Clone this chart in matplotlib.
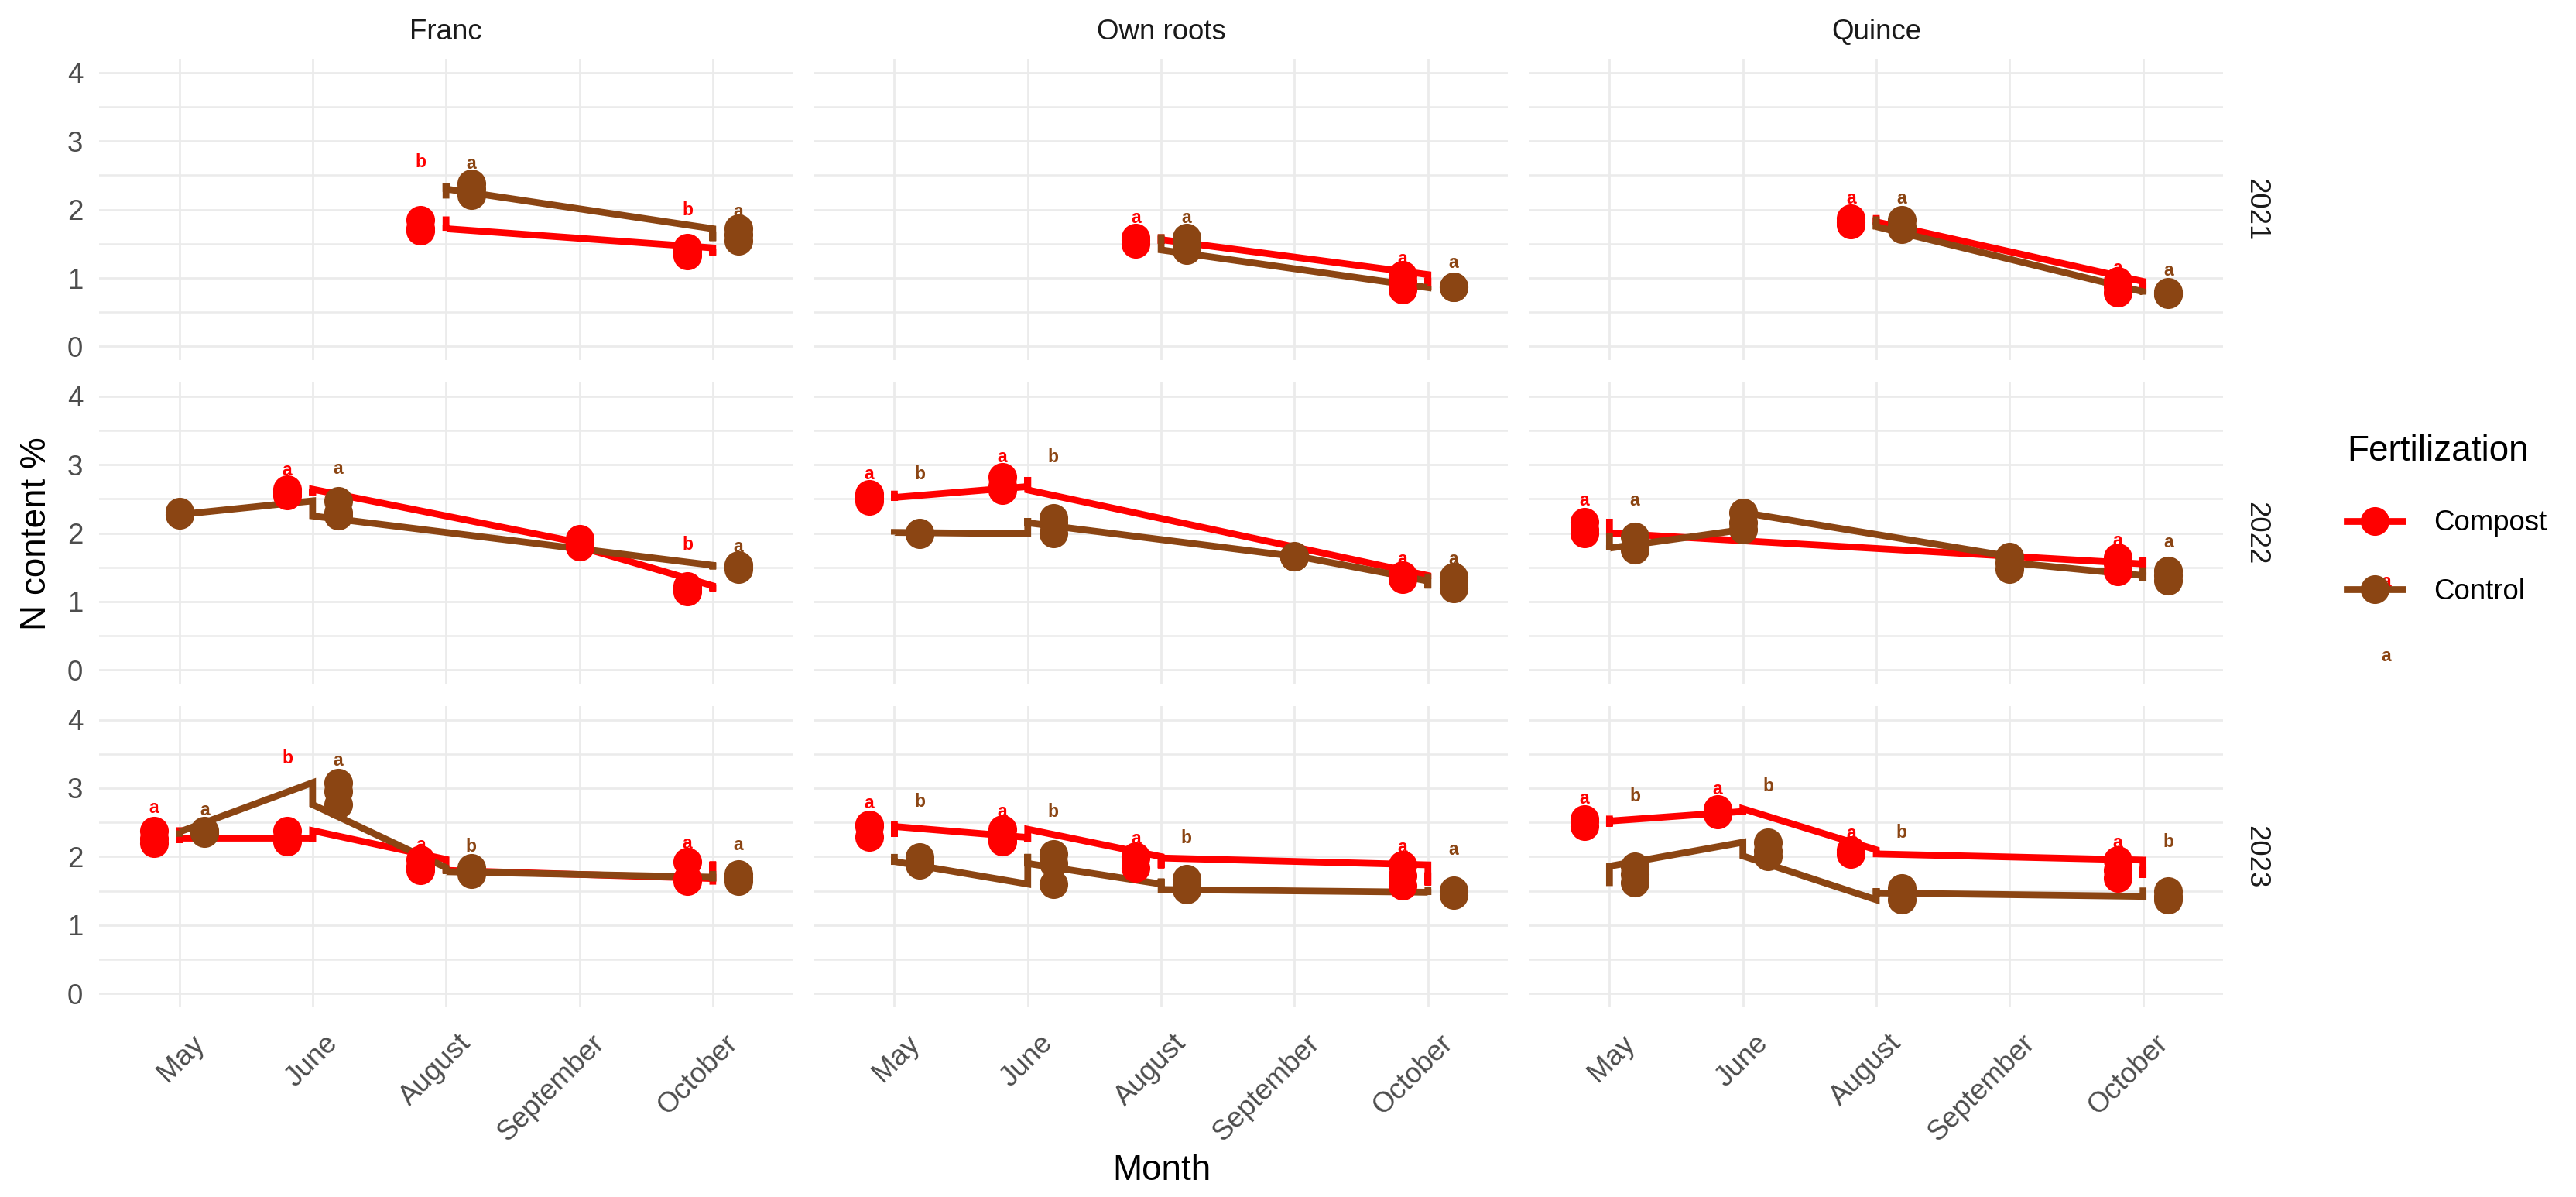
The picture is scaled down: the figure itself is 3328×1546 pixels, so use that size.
import numpy as np
import matplotlib.pyplot as plt
from matplotlib.lines import Line2D
from matplotlib.transforms import ScaledTranslation

plt.rcParams['font.family'] = ['Liberation Sans', 'DejaVu Sans']

months = ["May", "June", "August", "September", "October"]
sites = ["Franc", "Own roots", "Quince"]
years = ["2021", "2022", "2023"]
groups = ["Compost", "Control"]
colors = {"Compost": "#FF0000", "Control": "#8B4513"}

# N content of the replicates per month, in data order (the line runs through them in that order)
franc_2021_compost = {"August": [1.85, 1.69, 1.72], "October": [1.44, 1.33, 1.38]}
franc_2021_control = {"August": [2.21, 2.38, 2.30], "October": [1.72, 1.54, 1.63]}
franc_2022_compost = {"June": [2.60, 2.55, 2.64], "September": [1.86, 1.91, 1.80], "October": [1.23, 1.15, 1.19]}
franc_2022_control = {"May": [2.28, 2.31, 2.27], "June": [2.47, 2.30, 2.25], "October": [1.53, 1.47, 1.52]}
franc_2023_compost = {"May": [2.38, 2.20, 2.27], "June": [2.27, 2.22, 2.38], "August": [1.96, 1.86, 1.80], "October": [1.68, 1.93, 1.64]}
franc_2023_control = {"May": [2.34, 2.38, 2.36], "June": [3.08, 2.95, 2.76], "August": [1.84, 1.75, 1.78], "October": [1.70, 1.64, 1.74]}

own_2021_compost = {"August": [1.59, 1.50, 1.56], "October": [1.05, 0.83, 0.95]}
own_2021_control = {"August": [1.59, 1.46, 1.41], "October": [0.86, 0.88, 0.87]}
own_2022_compost = {"May": [2.57, 2.47, 2.52], "June": [2.68, 2.82, 2.63], "October": [1.38, 1.33, 1.36]}
own_2022_control = {"May": [2.00, 1.98, 2.01], "June": [1.99, 2.22, 2.15], "September": [1.66, 1.65, 1.67], "October": [1.30, 1.19, 1.36]}
own_2023_compost = {"May": [2.47, 2.29, 2.44], "June": [2.28, 2.22, 2.40], "August": [2.00, 1.83, 1.98], "October": [1.88, 1.58, 1.72]}
own_2023_control = {"May": [1.99, 1.88, 1.93], "June": [1.60, 2.04, 1.90], "August": [1.60, 1.68, 1.52], "October": [1.48, 1.44, 1.51]}

quince_2021_compost = {"August": [1.87, 1.78, 1.82], "October": [0.95, 0.79, 0.88]}
quince_2021_control = {"August": [1.85, 1.71, 1.75], "October": [0.80, 0.76, 0.78]}
quince_2022_compost = {"May": [2.16, 2.05, 2.00], "October": [1.55, 1.64, 1.44]}
quince_2022_control = {"May": [1.95, 1.76, 1.78], "June": [2.05, 2.15, 2.30], "September": [1.66, 1.47, 1.57], "October": [1.38, 1.30, 1.45]}
quince_2023_compost = {"May": [2.55, 2.44, 2.52], "June": [2.66, 2.62, 2.70], "August": [2.10, 2.06, 2.04], "October": [1.95, 1.69, 1.80]}
quince_2023_control = {"May": [1.62, 1.75, 1.86], "June": [2.21, 2.08, 2.01], "August": [1.37, 1.54, 1.47], "October": [1.42, 1.37, 1.50]}

# significance letters: (group, month, y, letter)
franc_2021_letters = [("Compost", "August", 2.69, "b"), ("Control", "August", 2.67, "a"),
                      ("Compost", "October", 1.99, "b"), ("Control", "October", 1.97, "a")]
franc_2022_letters = [("Compost", "June", 2.92, "a"), ("Control", "June", 2.94, "a"),
                      ("Compost", "October", 1.83, "b"), ("Control", "October", 1.80, "a")]
franc_2023_letters = [("Compost", "May", 2.71, "a"), ("Control", "May", 2.68, "a"),
                      ("Compost", "June", 3.43, "b"), ("Control", "June", 3.40, "a"),
                      ("Compost", "August", 2.17, "a"), ("Control", "August", 2.15, "b"),
                      ("Compost", "October", 2.19, "a"), ("Control", "October", 2.17, "a")]
own_2021_letters = [("Compost", "August", 1.88, "a"), ("Control", "August", 1.88, "a"),
                    ("Compost", "October", 1.28, "a"), ("Control", "October", 1.22, "a")]
own_2022_letters = [("Compost", "May", 2.86, "a"), ("Control", "May", 2.86, "b"),
                    ("Compost", "June", 3.11, "a"), ("Control", "June", 3.11, "b"),
                    ("Compost", "October", 1.61, "a"), ("Control", "October", 1.61, "a")]
own_2023_letters = [("Compost", "May", 2.78, "a"), ("Control", "May", 2.80, "b"),
                    ("Compost", "June", 2.65, "a"), ("Control", "June", 2.66, "b"),
                    ("Compost", "August", 2.26, "a"), ("Control", "August", 2.27, "b"),
                    ("Compost", "October", 2.14, "a"), ("Control", "October", 2.10, "a")]
quince_2021_letters = [("Compost", "August", 2.16, "a"), ("Control", "August", 2.16, "a"),
                       ("Compost", "October", 1.14, "a"), ("Control", "October", 1.11, "a")]
quince_2022_letters = [("Compost", "May", 2.48, "a"), ("Control", "May", 2.48, "a"),
                       ("Compost", "October", 1.89, "a"), ("Control", "October", 1.87, "a")]
quince_2023_letters = [("Compost", "May", 2.85, "a"), ("Control", "May", 2.88, "b"),
                       ("Compost", "June", 2.98, "a"), ("Control", "June", 3.03, "b"),
                       ("Compost", "August", 2.34, "a"), ("Control", "August", 2.35, "b"),
                       ("Compost", "October", 2.20, "a"), ("Control", "October", 2.21, "b")]

panels = {
    ("Franc", "2021"): (franc_2021_compost, franc_2021_control, franc_2021_letters),
    ("Franc", "2022"): (franc_2022_compost, franc_2022_control, franc_2022_letters),
    ("Franc", "2023"): (franc_2023_compost, franc_2023_control, franc_2023_letters),
    ("Own roots", "2021"): (own_2021_compost, own_2021_control, own_2021_letters),
    ("Own roots", "2022"): (own_2022_compost, own_2022_control, own_2022_letters),
    ("Own roots", "2023"): (own_2023_compost, own_2023_control, own_2023_letters),
    ("Quince", "2021"): (quince_2021_compost, quince_2021_control, quince_2021_letters),
    ("Quince", "2022"): (quince_2022_compost, quince_2022_control, quince_2022_letters),
    ("Quince", "2023"): (quince_2023_compost, quince_2023_control, quince_2023_letters),
}

dodge = 0.19
pt_size = 8.9
line_w = 2.1

fig, axes = plt.subplots(3, 3, figsize=(3328 / 300, 1546 / 300), dpi=300, sharex=True, sharey=True)
fig.subplots_adjust(left=0.0385, right=0.863, top=0.9508, bottom=0.1585, wspace=0.031, hspace=0.074)

xpos = {m: i + 1 for i, m in enumerate(months)}

for r, year in enumerate(years):
    for c, site in enumerate(sites):
        ax = axes[r, c]
        compost, control, letters = panels[(site, year)]
        data = {"Compost": compost, "Control": control}

        def point_x(group, month):
            other = data["Control" if group == "Compost" else "Compost"]
            if month not in other:
                return xpos[month]
            return xpos[month] + (-dodge if group == "Compost" else dodge)

        # lines through the replicates at the undodged month position
        for g in groups:
            lx, ly = [], []
            for m in sorted(data[g], key=lambda k: xpos[k]):
                lx += [xpos[m]] * len(data[g][m])
                ly += data[g][m]
            ax.plot(lx, ly, color=colors[g], lw=line_w, zorder=2, solid_joinstyle='miter')

        for g in groups:
            for m, vals in data[g].items():
                ax.plot([point_x(g, m)] * len(vals), vals, 'o', ms=pt_size, mew=0,
                        color=colors[g], zorder=3)

        for g, m, y, lab in letters:
            ax.text(point_x(g, m), y, lab, color=colors[g], fontsize=5.5, fontweight='bold',
                    ha='center', va='center', zorder=4)

        ax.set_xlim(0.4, 5.6)
        ax.set_ylim(-0.2, 4.2)
        ax.set_xticks(range(1, 6))
        ax.set_xticklabels(months)
        ax.set_yticks([0, 1, 2, 3, 4])
        ax.set_yticks([0.5, 1.5, 2.5, 3.5], minor=True)
        ax.grid(True, which='major', color='#EBEBEB', lw=0.65)
        ax.grid(True, which='minor', axis='y', color='#EBEBEB', lw=0.6)
        ax.set_axisbelow(True)
        for s in ax.spines.values():
            s.set_visible(False)
        ax.tick_params(which='both', length=0)
        ax.tick_params(axis='y', labelsize=8.8, labelcolor='#4D4D4D', pad=5)
        ax.tick_params(axis='x', labelsize=8.8, labelcolor='#4D4D4D', pad=7)

        if r == 0:
            ax.set_title(site, fontsize=8.8, color='#1A1A1A', pad=6)
        if c == 2:
            ax.text(1.047, 0.5, year, transform=ax.transAxes, rotation=-90, fontsize=8.8,
                    color='#1A1A1A', ha='center', va='center')

for ax in axes[2]:
    for lbl in ax.get_xticklabels():
        lbl.set_rotation(45)
        lbl.set_ha('right')
        lbl.set_va('top')
        lbl.set_rotation_mode('anchor')
        lbl.set_transform(lbl.get_transform() + ScaledTranslation(3.5 / 72, 0, fig.dpi_scale_trans))

fig.text(0.451, 0.022, "Month", fontsize=11, ha='center', va='center')
fig.text(0.014, 0.554, "N content %", fontsize=11, rotation=90, ha='center', va='center')

handles = [Line2D([], [], color=colors[g], lw=line_w, marker='o', ms=pt_size, mew=0) for g in groups]
fig.text(3083 / 3328, 1 - 751 / 1546, "a", color=colors["Compost"], fontsize=5.5, fontweight='bold',
         ha='center', va='center')
fig.text(3083 / 3328, 1 - 848 / 1546, "a", color=colors["Control"], fontsize=5.5, fontweight='bold',
         ha='center', va='center')
fig.legend(handles, groups, title="Fertilization", loc='upper left', bbox_to_anchor=(0.911, 0.637),
           frameon=False, fontsize=8.8, title_fontsize=11, handlelength=1.96, handletextpad=1.1,
           labelspacing=1.45, borderpad=0, borderaxespad=0, alignment='left')

fig.savefig("out.png", dpi=300, facecolor='white')
